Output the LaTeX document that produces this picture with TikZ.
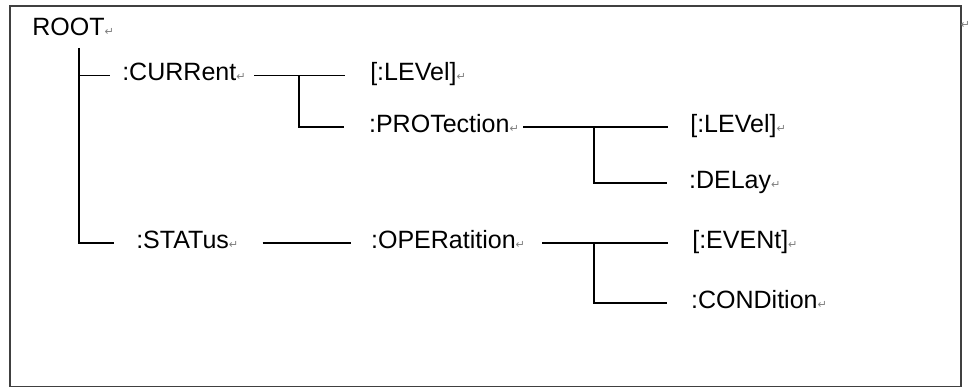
\documentclass[tikz,border=0pt]{standalone}
\usepackage{fontspec}
\setmainfont{Liberation Sans}
\newfontfamily\markfont{DejaVu Sans}
\usepackage{tikz}

\newcommand{\pmark}{{\markfont\fontsize{8}{8}\selectfont\color{gray}↵}}
\tikzset{
    cmdtext/.style={anchor=west, inner sep=0pt, text height=0.72em, text depth=0pt, font=\fontsize{17.8}{20}\selectfont},
    branch/.style={line width=0.8pt}
}

\begin{document}
\begin{tikzpicture}
        \useasboundingbox (0,0) rectangle (24.2,9.7);
        % Frame
        \draw[line width=1pt, black!75] (0.25,0.04) rectangle (24.025,9.55);
        \node[inner sep=0pt] (endmark) at (24.13,9.08) {\pmark};

        % Commands
        \node[cmdtext] (root) at (0.8,8.94) {ROOT\pmark};
        \node[cmdtext] (cur) at (3.05,7.81) {:CURRent\pmark};
        \node[cmdtext] (curlev) at (9.25,7.81) {[:LEVel]\pmark};
        \node[cmdtext] (prot) at (9.22,6.525) {:PROTection\pmark};
        \node[cmdtext] (protlev) at (17.25,6.525) {[:LEVel]\pmark};
        \node[cmdtext] (protdel) at (17.22,5.125) {:DELay\pmark};
        \node[cmdtext] (stat) at (3.4,3.625) {:STATus\pmark};
        \node[cmdtext] (oper) at (9.27,3.625) {:OPERatition\pmark};
        \node[cmdtext] (operev) at (17.3,3.625) {[:EVENt]\pmark};
        \node[cmdtext] (opercond) at (17.27,2.125) {:CONDition\pmark};

        % Junctions
        \coordinate (trunk) at (1.975,8.5);
        \coordinate (jcur) at (7.475,7.81);
        \coordinate (jprot) at (14.85,6.525);
        \coordinate (joper) at (14.85,3.625);

        % ROOT to CURRent and STATus
        \draw[branch] (trunk) |- ([xshift=-0.55cm]stat.west);
        \draw[branch] (cur.west -| trunk) -- ([xshift=-0.3cm]cur.west);

        % CURRent to LEVel and PROTection
        \draw[branch] ([xshift=0.2cm]cur.east) -- ([xshift=-0.625cm]curlev.west);
        \draw[branch] (jcur) |- ([xshift=-0.625cm]prot.west);

        % PROTection to LEVel and DELay
        \draw[branch] ([xshift=0.1cm]prot.east) -- ([xshift=-0.55cm]protlev.west);
        \draw[branch] (jprot) |- ([xshift=-0.55cm]protdel.west);

        % STATus to OPERatition
        \draw[branch] ([xshift=0.6cm]stat.east) -- ([xshift=-0.5cm]oper.west);

        % OPERatition to EVENt and CONDition
        \draw[branch] ([xshift=0.425cm]oper.east) -- ([xshift=-0.6cm]operev.west);
        \draw[branch] (joper) |- ([xshift=-0.6cm]opercond.west);
    \end{tikzpicture}
\end{document}
